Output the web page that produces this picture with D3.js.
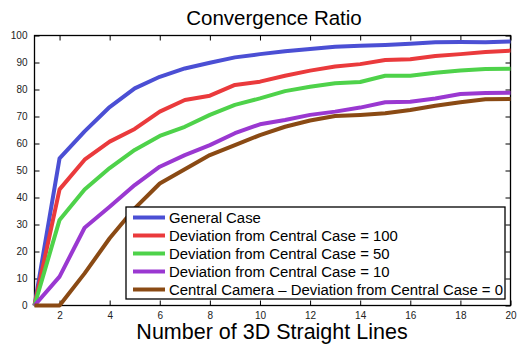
<!DOCTYPE html>
<html>
<head>
	<title>Convergence Ratio</title>
	<script src="https://d3js.org/d3.v7.min.js"></script>
	<style>
		body{margin:0; background:#fff;}
		svg text{font-family: 'Liberation Sans', Arial, sans-serif;}
		.tick text{fill:#222; font-size:10px;}
	</style>
</head>
<body>
	<div class="chart"></div>
	<script>
		// data
		const lineCounts = [1,2,3,4,5,6,7,8,9,10,11,12,13,14,15,16,17,18,19,20];
		const generalCase = [0,54.5,64.5,73.5,80.4,84.7,87.8,89.9,91.9,93.1,94.2,95.0,95.8,96.2,96.5,96.9,97.5,97.6,97.5,97.8];
		const dev100 = [0,43,54,60.7,65.4,71.8,76.1,77.7,81.7,82.9,85.1,87.0,88.5,89.4,90.9,91.2,92.4,93.1,93.9,94.4];
		const dev50 = [0,31.7,43,50.9,57.6,62.8,66.2,70.6,74.3,76.7,79.4,81.0,82.3,82.8,85.1,85.1,86.2,87.0,87.6,87.7];
		const dev10 = [0,10.7,28.8,36.6,44.6,51.4,55.7,59.4,63.8,67.1,68.7,70.6,71.8,73.3,75.3,75.5,76.7,78.3,78.7,78.8];
		const dev0 = [0,0,11.9,24.9,36,45.2,50.5,55.7,59.4,63.1,66.2,68.5,70.2,70.6,71.2,72.4,74.0,75.3,76.4,76.5];
		const seriesNames = ['General Case','Deviation from Central Case = 100','Deviation from Central Case = 50','Deviation from Central Case = 10','Central Camera \u2013 Deviation from Central Case = 0'];
		const xTicks = [2,4,6,8,10,12,14,16,18,20];
		const yTicks = [0,10,20,30,40,50,60,70,80,90,100];

		const colors = ['#4b4fd4','#ea3a3c','#4ed24a','#9a38d1','#8a4a14'];
		const allSeries = [generalCase, dev100, dev50, dev10, dev0];

		const W = 523, H = 345;
		const plotLeft = 34.5, plotRight = 510.5, plotTop = 35.5, plotBottom = 305.5;

		const svg = d3.select('.chart').append('svg').attr('width',W).attr('height',H)

		let x = d3.scaleLinear().domain([1,20]).range([plotLeft,plotRight])
		let y = d3.scaleLinear().domain([0,100]).range([plotBottom,plotTop])

		// axes with inward ticks
		svg.append('g').attr('transform',`translate(0,${plotBottom})`)
			.call(d3.axisBottom(x).tickValues(xTicks).tickSize(-5).tickPadding(6))
		svg.append('g').attr('transform',`translate(0,${plotTop})`)
			.call(d3.axisTop(x).tickValues(xTicks).tickSize(-5).tickFormat(''))
		svg.append('g').attr('transform',`translate(${plotLeft},0)`)
			.call(d3.axisLeft(y).tickValues(yTicks).tickSize(-5).tickPadding(7))
		svg.append('g').attr('transform',`translate(${plotRight},0)`)
			.call(d3.axisRight(y).tickValues(yTicks).tickSize(-5).tickFormat(''))
		svg.selectAll('.domain').remove();
		svg.selectAll('.tick line').attr('stroke','#000');

		svg.append('rect').attr('x',plotLeft).attr('y',plotTop).attr('width',plotRight-plotLeft).attr('height',plotBottom-plotTop)
			.attr('fill','none').attr('stroke','#000').attr('stroke-width',1.3)

		const line = d3.line().x((d,i)=>x(lineCounts[i])).y(d=>y(d))

		svg.selectAll('.series').data(allSeries).join('path')
			.attr('class','series')
			.attr('d',line)
			.attr('fill','none')
			.attr('stroke',(d,i)=>colors[i])
			.attr('stroke-width',4)
			.attr('stroke-linejoin','round')

		// legend
		const legend = svg.append('g').attr('transform','translate(126,207)')
		legend.append('rect').attr('width',379).attr('height',92)
			.attr('fill','#fff').attr('stroke','#000').attr('stroke-width',1.3)
		const rows = legend.selectAll('.row').data(seriesNames).join('g')
			.attr('class','row')
			.attr('transform',(d,i)=>`translate(0,${10.5+i*18})`)
		rows.append('line').attr('x1',7).attr('x2',39).attr('y1',0).attr('y2',0)
			.attr('stroke',(d,i)=>colors[i]).attr('stroke-width',4)
		rows.append('text').attr('x',43).attr('y',5).attr('font-size',14.9).attr('fill','#000').text(d=>d)

		svg.append('text').attr('x',274).attr('y',25).attr('text-anchor','middle').attr('font-size',20.5).text('Convergence Ratio')
		svg.append('text').attr('x',272).attr('y',339).attr('text-anchor','middle').attr('font-size',21.5).text('Number of 3D Straight Lines')
	</script>
</body>
</html>
